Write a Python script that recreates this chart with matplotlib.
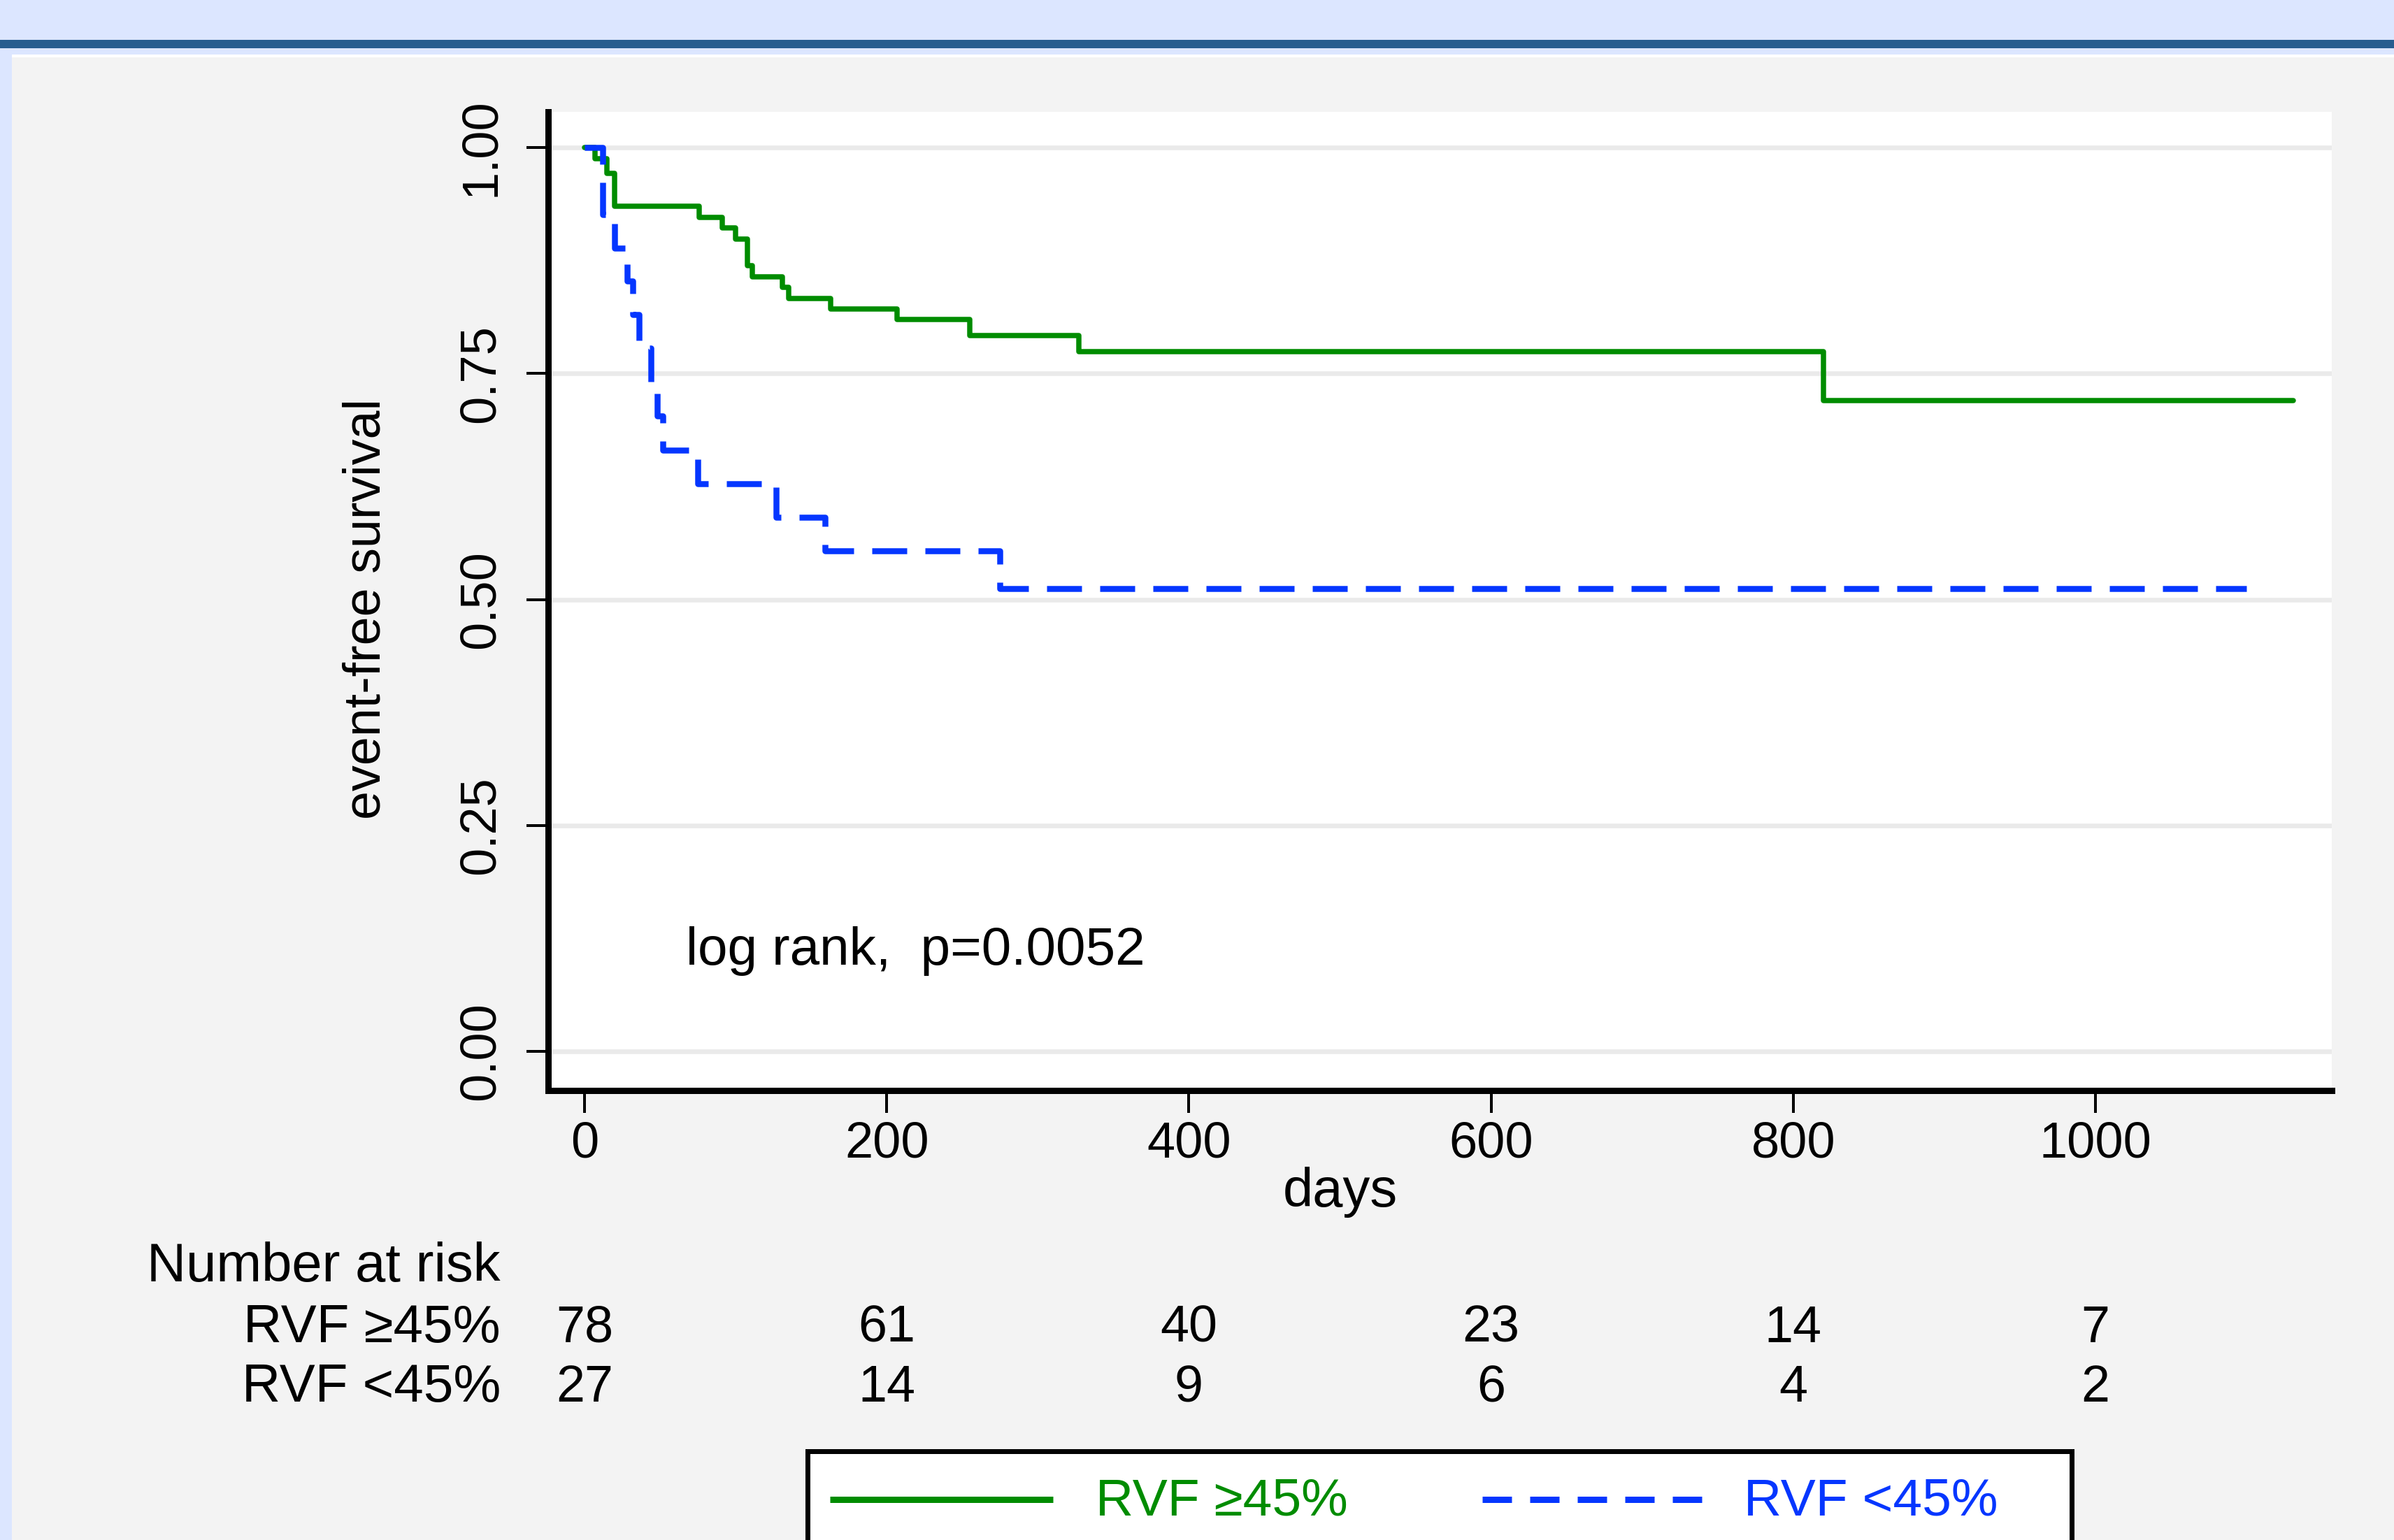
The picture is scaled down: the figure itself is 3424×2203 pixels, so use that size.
import numpy as np
import matplotlib
matplotlib.use("Agg")
import matplotlib.pyplot as plt
from matplotlib.patches import Rectangle
from matplotlib.lines import Line2D
from matplotlib.transforms import blended_transform_factory

# --- canvas, in pixels ---
W, H = 3424, 2203
DPI = 100
PT = 72.0 / DPI  # pixel -> point

plt.rcParams['font.family'] = ['Liberation Sans', 'DejaVu Sans']
plt.rcParams['lines.scale_dashes'] = False

GREEN = '#008C00'
BLUE = '#0536FF'
GRID = '#EAEAEA'

# --- data ---
GROUPS = ['RVF \u226545%', 'RVF <45%']

DAYS_HIGH = [0, 7, 15, 20, 76, 91, 100, 108, 111, 131, 135, 163, 207, 255, 327, 820, 1131]
SURV_HIGH = [1.0, 0.988, 0.971, 0.935, 0.923, 0.911, 0.899, 0.869, 0.857, 0.845, 0.833,
             0.821, 0.810, 0.792, 0.774, 0.720, 0.720]

DAYS_LOW = [0, 12, 20, 28, 32, 36, 44, 48, 52, 75, 127, 159, 275, 1100]
SURV_LOW = [1.0, 0.926, 0.889, 0.852, 0.815, 0.778, 0.741, 0.703, 0.665, 0.628, 0.591,
            0.554, 0.512, 0.512]

TICK_DAYS = [0, 200, 400, 600, 800, 1000]
Y_TICKS = [0.0, 0.25, 0.5, 0.75, 1.0]
Y_TICK_LABELS = ['0.00', '0.25', '0.50', '0.75', '1.00']

AT_RISK_HIGH = [78, 61, 40, 23, 14, 7]
AT_RISK_LOW = [27, 14, 9, 6, 4, 2]

P_TEXT = 'log rank,  p=0.0052'


def fx(x):
    return x / W


def fy(y):
    return 1 - y / H


fig = plt.figure(figsize=(W / DPI, H / DPI), dpi=DPI, facecolor='#DCE6FF')

# page background: blue band, white rule, grey panel (kept behind the axes)
fig.patches.append(Rectangle((fx(0), fy(69)), 1, (69 - 57) / H, transform=fig.transFigure,
                             facecolor='#275D8F', edgecolor='none', zorder=-10))
fig.patches.append(Rectangle((fx(17), fy(82)), 1, (82 - 78) / H, transform=fig.transFigure,
                             facecolor='white', edgecolor='none', zorder=-10))
fig.patches.append(Rectangle((fx(17), 0), 1, fy(82), transform=fig.transFigure,
                             facecolor='#F3F3F3', edgecolor='none', zorder=-10))

# plot region
L, R, T, B = 784, 3335, 160, 1560
ax = fig.add_axes([fx(L), fy(B), (R - L) / W, (B - T) / H])
ax.set_facecolor('white')

x0_px, px_per_day = 836, 2.161
y1_px, y0_px = 211, 1504
ax.set_xlim((L - x0_px) / px_per_day, (R - x0_px) / px_per_day)
ax.set_ylim(-(B - y0_px) / (y0_px - y1_px), 1 + (y1_px - T) / (y0_px - y1_px))

ax.step(DAYS_HIGH, SURV_HIGH, where='post', color=GREEN, lw=7.5 * PT,
        solid_capstyle='round', solid_joinstyle='round', zorder=3)
ax.step(DAYS_LOW, SURV_LOW, where='post', color=BLUE, lw=8.5 * PT,
        linestyle=(0, (50 * PT, 26 * PT)), dash_capstyle='butt', zorder=3)

for s in ['top', 'right']:
    ax.spines[s].set_visible(False)
for s in ['left', 'bottom']:
    ax.spines[s].set_linewidth(9 * PT)

ax.set_xticks(TICK_DAYS)
ax.set_xticklabels([str(d) for d in TICK_DAYS])
ax.set_yticks(Y_TICKS)
ax.set_yticklabels(Y_TICK_LABELS, rotation=90, rotation_mode='anchor', ha='center', va='baseline')
ax.tick_params(axis='x', length=32 * PT, width=4 * PT, pad=12 * PT, labelsize=52)
ax.tick_params(axis='y', length=31 * PT, width=4 * PT, pad=46 * PT, labelsize=52)

ax.yaxis.grid(True, color=GRID, linewidth=6.7 * PT)
ax.xaxis.grid(False)
ax.set_axisbelow(True)

ax.text((981 - x0_px) / px_per_day, (y0_px - 1380) / (y0_px - y1_px), P_TEXT,
        fontsize=55, ha='left', va='baseline')

# axis titles
fig.text(fx(1917), fy(1726), 'days', fontsize=56, ha='center', va='baseline')
fig.text(fx(544), fy(871), 'event-free survival', fontsize=53, rotation=90,
         rotation_mode='anchor', ha='center', va='baseline')

# number at risk table
trans = blended_transform_factory(ax.transData, fig.transFigure)
fig.text(fx(716), fy(1833), 'Number at risk', fontsize=56, ha='right', va='baseline')
for label, counts, base in [(GROUPS[0], AT_RISK_HIGH, 1920), (GROUPS[1], AT_RISK_LOW, 2005)]:
    fig.text(fx(716), fy(base), label, fontsize=55, ha='right', va='baseline')
    for d, n in zip(TICK_DAYS, counts):
        ax.text(d, fy(base), str(n), transform=trans, fontsize=53, ha='center',
                va='baseline', clip_on=False)

# legend box (runs off the bottom of the page)
fig.patches.append(Rectangle((fx(1154.5), fy(2300)), (2962.5 - 1154.5) / W, (2300 - 2075.5) / H,
                             transform=fig.transFigure, facecolor='white', edgecolor='black',
                             linewidth=7 * PT))
fig.lines.append(Line2D([fx(1187), fx(1506)], [fy(2145), fy(2145)], transform=fig.transFigure,
                        color=GREEN, lw=9 * PT, solid_capstyle='butt'))
fig.lines.append(Line2D([fx(2120), fx(2439)], [fy(2145), fy(2145)], transform=fig.transFigure,
                        color=BLUE, lw=9 * PT, linestyle=(0, (42 * PT, 26 * PT)),
                        dash_capstyle='butt'))
fig.text(fx(1567), fy(2168), GROUPS[0], color=GREEN, fontsize=54, ha='left', va='baseline')
fig.text(fx(2494), fy(2168), GROUPS[1], color=BLUE, fontsize=54, ha='left', va='baseline')

fig.savefig('out.png', dpi=DPI, facecolor=fig.get_facecolor())
